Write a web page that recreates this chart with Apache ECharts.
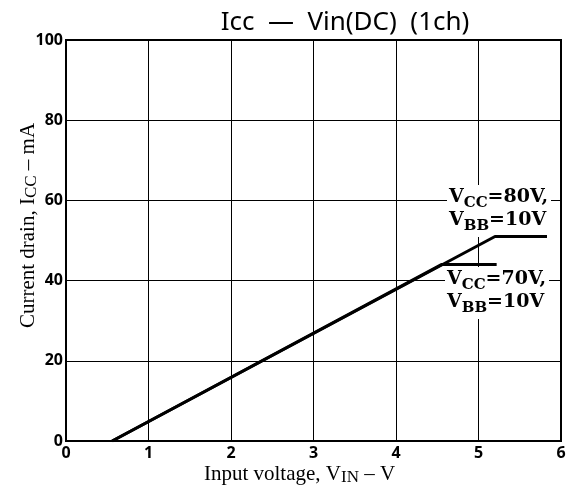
<!DOCTYPE html>
<html>
<head>
<meta charset="utf-8">
<script src="https://cdn.jsdelivr.net/npm/echarts@6/dist/echarts.min.js"></script>
<style>
  html, body { margin: 0; padding: 0; background: #fff; }
  #chart { width: 571px; height: 495px; }
</style>
</head>
<body>
<div id="chart"></div>
<script>
// Icc vs Vin curves
const vin80 = [0.56, 5.2, 5.83]
const icc80 = [0, 51, 51]
const vin70 = [0.56, 4.55, 5.22]
const icc70 = [0, 44, 44]
const xTicks = [0, 1, 2, 3, 4, 5, 6]
const yTicks = [0, 20, 40, 60, 80, 100]

const pairs = (xs, ys) => xs.map((x, i) => [x, ys[i]])

const tickFont = { fontFamily: 'Noto Sans', fontWeight: 'bold', fontSize: 16, color: '#000' }
const serif = 'Liberation Serif'

// main text hugs the top of the line, subscript drops to the bottom
const nameRich = {
    m: { fontFamily: serif, fontSize: 21, color: '#000', lineHeight: 14, verticalAlign: 'top' },
    s: { fontFamily: serif, fontSize: 17, color: '#000', lineHeight: 22, verticalAlign: 'bottom' }
}
const noteRich = {
    m: { fontFamily: 'DejaVu Serif', fontWeight: 'bold', fontSize: 19, fill: '#000', lineHeight: 15, verticalAlign: 'top' },
    s: { fontFamily: 'DejaVu Serif', fontWeight: 'bold', fontSize: 15, fill: '#000', lineHeight: 23, verticalAlign: 'bottom' }
}

const noteStyle = text => ({
    text: text,
    fontFamily: 'DejaVu Serif',
    fontWeight: 'bold',
    fontSize: 19,
    fill: '#000',
    backgroundColor: '#fff',
    padding: [3, 3, 3, 2],
    rich: noteRich
})

let myChart = echarts.init(document.getElementById('chart'))
myChart.setOption({
    animation: false,
    title: {
        text: 'Icc  —  Vin(DC)  (1ch)',
        left: 340,
        textAlign: 'center',
        top: 5,
        textStyle: { fontFamily: 'Noto Sans', fontWeight: 'normal', fontSize: 26, color: '#000' }
    },
    grid: {
        left: 66,
        right: 10,
        top: 40,
        bottom: 54,
        outerBoundsMode: 'none',
        show: true,
        borderColor: '#000',
        borderWidth: 2
    },
    xAxis: {
        type: 'value',
        min: xTicks[0],
        max: xTicks[xTicks.length - 1],
        interval: 1,
        axisLine: { show: true, lineStyle: { color: '#000', width: 2 } },
        axisTick: { show: false },
        axisLabel: Object.assign({ margin: 4 }, tickFont),
        splitLine: { show: true, lineStyle: { color: '#000', width: 1 } },
        name: '{m|Input voltage, V}{s|IN}{m| – V}',
        nameLocation: 'middle',
        nameGap: 23,
        nameMoveOverlap: false,
        nameTextStyle: {
            fontFamily: serif, fontSize: 21, color: '#000',
            padding: [0, 28, 0, 0],
            rich: nameRich
        }
    },
    yAxis: {
        type: 'value',
        min: yTicks[0],
        max: yTicks[yTicks.length - 1],
        interval: 20,
        axisLine: { show: true, lineStyle: { color: '#000', width: 2 } },
        axisTick: { show: false },
        axisLabel: Object.assign({ margin: 3, padding: [0, 0, 4, 0] }, tickFont),
        splitLine: { show: true, lineStyle: { color: '#000', width: 1 } },
        name: '{m|Current drain, I}{s|CC}{m| – mA}',
        nameLocation: 'middle',
        nameGap: 26,
        nameMoveOverlap: false,
        nameTextStyle: {
            fontFamily: serif, fontSize: 20, color: '#000',
            padding: [0, 0, 0, 30],
            rich: nameRich
        }
    },
    graphic: [
        { type: 'text', left: 447, top: 185, z: 1, style: noteStyle('{m|V}{s|CC}{m|=80V,}\n{m|V}{s|BB}{m|=10V}') },
        { type: 'text', left: 445, top: 267, z: 1, style: noteStyle('{m|V}{s|CC}{m|=70V,}\n{m|V}{s|BB}{m|=10V}') }
    ],
    series: [
        {
            name: 'VCC=80V',
            type: 'line',
            data: pairs(vin80, icc80),
            showSymbol: false,
            lineStyle: { color: '#000', width: 3 },
            z: 5
        },
        {
            name: 'VCC=70V',
            type: 'line',
            data: pairs(vin70, icc70),
            showSymbol: false,
            lineStyle: { color: '#000', width: 3 },
            z: 5
        }
    ]
})
window.addEventListener('resize', function() {
    myChart.resize()
})
</script>
</body>
</html>
